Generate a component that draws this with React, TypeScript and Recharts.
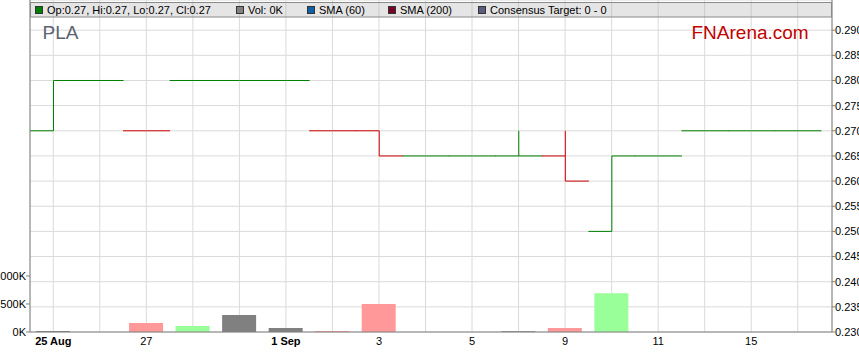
import React from 'react';
import { ComposedChart, Bar, XAxis, YAxis, CartesianGrid, Cell } from 'recharts';

// ---- data ----
const dates = ['25 Aug', '26 Aug', '27 Aug', '28 Aug', '29 Aug', '1 Sep', '2 Sep', '3 Sep', '4 Sep', '5 Sep', '8 Sep', '9 Sep', '10 Sep', '11 Sep', '12 Sep', '15 Sep', '16 Sep'];
const opens = [0.27, 0.28, 0.27, 0.28, 0.28, 0.28, 0.27, 0.27, 0.265, 0.265, 0.265, 0.265, 0.25, 0.265, 0.27, 0.27, 0.27];
const highs = [0.28, 0.28, 0.27, 0.28, 0.28, 0.28, 0.27, 0.27, 0.265, 0.265, 0.27, 0.27, 0.265, 0.265, 0.27, 0.27, 0.27];
const lows = [0.27, 0.28, 0.27, 0.28, 0.28, 0.28, 0.27, 0.265, 0.265, 0.265, 0.265, 0.26, 0.25, 0.265, 0.27, 0.27, 0.27];
const closes = [0.28, 0.28, 0.27, 0.28, 0.28, 0.28, 0.27, 0.265, 0.265, 0.265, 0.265, 0.26, 0.265, 0.265, 0.27, 0.27, 0.27];
const volumes = [18000, 0, 160000, 107000, 304000, 71000, 18000, 500000, 0, 0, 15000, 71000, 690000, 0, 0, 0, 0];
const priorClose = 0.28;

const tickLabels: Record<string, string> = {
  '25 Aug': '25 Aug',
  '27 Aug': '27',
  '1 Sep': '1 Sep',
  '3 Sep': '3',
  '5 Sep': '5',
  '9 Sep': '9',
  '11 Sep': '11',
  '15 Sep': '15',
};
const boldLabels = ['25 Aug', '1 Sep'];
const priceTicks = [0.23, 0.235, 0.24, 0.245, 0.25, 0.255, 0.26, 0.265, 0.27, 0.275, 0.28, 0.285, 0.29];
const volumeTicks = [0, 500000, 1000000];
const ticker = 'PLA';
const brand = 'FNArena.com';

// ---- styles ----
const UP = '#008000';
const DOWN = '#cc0000';
const VOL_UP = '#99ff99';
const VOL_DOWN = '#ff9999';
const VOL_FLAT = '#808080';
const FONT = '"Liberation Sans", Arial, sans-serif';

const last = dates.length - 1;
const legendLabels = [
  `Op:${opens[last].toFixed(2)}, Hi:${highs[last].toFixed(2)}, Lo:${lows[last].toFixed(2)}, Cl:${closes[last].toFixed(2)}`,
  `Vol: ${Math.round(volumes[last] / 1000)}K`,
  'SMA (60)',
  'SMA (200)',
  'Consensus Target: 0 - 0',
];
const legendColors = ['#008000', '#808080', '#1060a8', '#7a0025', '#5c5c7c'];
const legendXs = [35, 236, 307, 388, 478];

const data = dates.map((d, i) => {
  const prev = i === 0 ? priorClose : closes[i - 1];
  const c = closes[i];
  return {
    date: d,
    open: opens[i],
    high: highs[i],
    low: lows[i],
    close: c,
    range: [lows[i], highs[i]],
    volume: volumes[i],
    priceColor: c < prev ? DOWN : UP,
    volColor: c > prev ? VOL_UP : c < prev ? VOL_DOWN : VOL_FLAT,
  };
});

const OhlcShape = (props: any) => {
  const { x, y, width, height, payload } = props;
  if (x == null || y == null || !payload) return null;
  const top = Math.min(y, y + height);
  const bottom = Math.max(y, y + height);
  const span = payload.high - payload.low;
  const toY = (v: number) => (span > 0 ? top + ((payload.high - v) / span) * (bottom - top) : top);
  const cx = x + width / 2;
  const oy = toY(payload.open);
  const cy = toY(payload.close);
  return (
    <g stroke={payload.priceColor} strokeWidth={1} fill="none">
      <line x1={x} x2={cx} y1={oy} y2={oy} />
      {span > 0 && <line x1={cx} x2={cx} y1={top} y2={bottom} />}
      <line x1={cx} x2={x + width} y1={cy} y2={cy} />
    </g>
  );
};

const DateTick = (props: any) => {
  const { x, y, payload } = props;
  const label = tickLabels[payload.value];
  if (!label) return null;
  return (
    <text
      x={x}
      y={y}
      dy="0.71em"
      textAnchor="middle"
      fontSize={11}
      fontFamily={FONT}
      fontWeight={boldLabels.includes(payload.value) ? 'bold' : 'normal'}
      fill="#000"
    >
      {label}
    </text>
  );
};

export default function App() {
  return (
    <div
      style={{
        position: 'absolute',
        left: 0,
        top: 0,
        width: 859,
        height: 363,
        background: '#fff',
        fontFamily: FONT,
        overflow: 'hidden',
      }}
    >
      <ComposedChart
        width={859}
        height={363}
        data={data}
        margin={{ top: 0, right: 0, bottom: 0, left: 0 }}
        barCategoryGap={0}
        barGap={0}
      >
        <CartesianGrid xAxisId="main" yAxisId="price" stroke="#dadada" strokeWidth={1} />
        <XAxis
          xAxisId="main"
          dataKey="date"
          interval={0}
          tickLine={false}
          tickSize={0}
          tickMargin={5}
          axisLine={{ stroke: '#808080' }}
          padding={{ left: 0, right: 11 }}
          height={31}
          tick={<DateTick />}
        />
        <XAxis xAxisId="vol" dataKey="date" hide padding={{ left: 0, right: 11 }} />
        <YAxis
          yAxisId="vol"
          orientation="left"
          width={30}
          domain={[0, 5923000]}
          allowDataOverflow
          ticks={volumeTicks}
          interval={0}
          tickFormatter={(v: number) => `${Math.round(v / 1000)}K`}
          tick={{ fill: '#000', fontSize: 11 }}
          tickSize={4}
          tickMargin={0}
          axisLine={{ stroke: '#808080' }}
          tickLine={{ stroke: '#808080' }}
        />
        <YAxis
          yAxisId="price"
          orientation="right"
          width={27}
          domain={[0.23, 0.296]}
          allowDataOverflow
          ticks={priceTicks}
          interval={0}
          tickFormatter={(v: number) => v.toFixed(3)}
          tick={{ fill: '#000', fontSize: 11 }}
          tickSize={3}
          tickMargin={0}
          axisLine={{ stroke: '#808080' }}
          tickLine={{ stroke: '#808080' }}
        />
        <Bar xAxisId="vol" yAxisId="vol" dataKey="volume" barSize={34} isAnimationActive={false}>
          {data.map((d, i) => (
            <Cell key={i} fill={d.volColor} />
          ))}
        </Bar>
        <Bar xAxisId="main" yAxisId="price" dataKey="range" shape={OhlcShape} isAnimationActive={false} />
      </ComposedChart>
      <svg
        width={859}
        height={363}
        style={{ position: 'absolute', left: 0, top: 0, pointerEvents: 'none' }}
      >
        <rect x={30.5} y={2.5} width={801} height={14.5} fill="#a8a8a8" fillOpacity={0.3} stroke="#8a8a8a" />
        {legendLabels.map((label, i) => (
          <g key={label}>
            <rect x={legendXs[i] + 0.5} y={6.5} width={7} height={7} fill={legendColors[i]} stroke="#333" />
            <text x={legendXs[i] + 12} y={14} fontSize={11} fontFamily={FONT} fill="#000">
              {label}
            </text>
          </g>
        ))}
        <text x={42.5} y={39} fontSize={19} fontFamily={FONT} fill="#5b6272">
          {ticker}
        </text>
        <text x={691.5} y={39} fontSize={19} fontFamily={FONT} fill="#c40000">
          {brand}
        </text>
      </svg>
    </div>
  );
}
